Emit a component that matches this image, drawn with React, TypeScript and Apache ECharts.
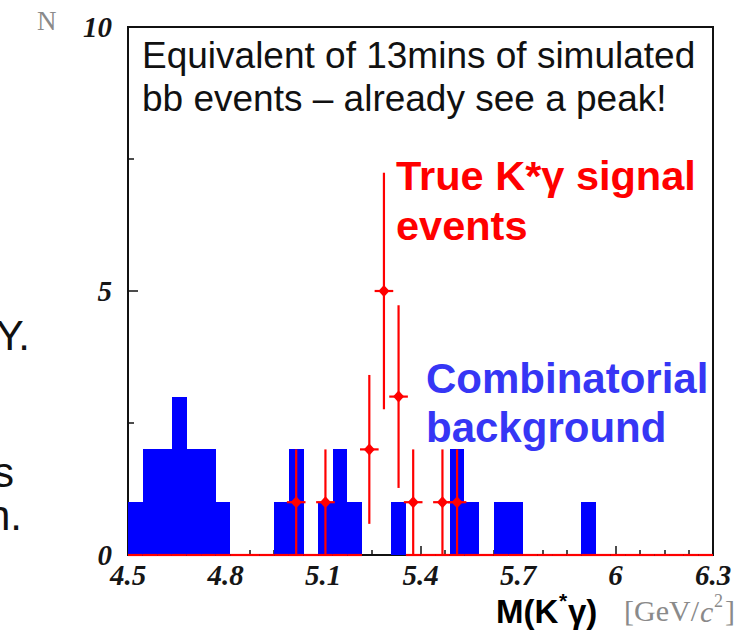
import { useEffect, useRef } from "react";
import * as echarts from "echarts";

// Invariant-mass histogram, 40 bins of 0.045 GeV/c^2 from 4.5 to 6.3
const massMin = 4.5;
const massMax = 6.3;
const binWidth = 0.045;

// Combinatorial background counts per bin
const background = [
  1, 2, 2, 3, 2, 2, 1, 0, 0, 0,
  1, 2, 0, 1, 2, 1, 0, 0, 1, 0,
  0, 0, 2, 1, 0, 1, 1, 0, 0, 0,
  0, 1, 0, 0, 0, 0, 0, 0, 0, 0,
];

// True K*gamma signal counts per bin and their statistical errors
const signal = [
  0, 0, 0, 0, 0, 0, 0, 0, 0, 0,
  0, 1, 0, 1, 0, 0, 2, 5, 3, 1,
  0, 1, 1, 0, 0, 0, 0, 0, 0, 0,
  0, 0, 0, 0, 0, 0, 0, 0, 0, 0,
];
const signalError = [
  0, 0, 0, 0, 0, 0, 0, 0, 0, 0,
  0, 1, 0, 1, 0, 0, 1.41, 2.24, 1.73, 1,
  0, 1, 1, 0, 0, 0, 0, 0, 0, 0,
  0, 0, 0, 0, 0, 0, 0, 0, 0, 0,
];

const noteLines = ["Equivalent of 13mins of simulated", "bb events \u2013 already see a peak!"];
const signalLabel = ["True K*\u03b3 signal", "events"];
const backgroundLabel = ["Combinatorial", "background"];

const RED = "#ff0000";
const BLUE = "#0000ff";
const LABEL_BLUE = "#3636f5";
const tickFont = {
  fontFamily: "Liberation Serif",
  fontWeight: "bold" as const,
  fontStyle: "italic" as const,
  fontSize: 29,
  color: "#161616",
};

function text(x: number, y: number, str: string, font: string, fill: string, align = "left") {
  return {
    type: "text",
    x,
    y,
    silent: true,
    style: {
      text: str,
      font,
      fill,
      align,
      textAlign: align,
      verticalAlign: "middle",
      textVerticalAlign: "middle",
    },
  };
}

export default function App() {
  const ref = useRef<HTMLDivElement>(null);

  useEffect(() => {
    if (!ref.current) return;
    const chart = echarts.init(ref.current, null, { renderer: "svg" });

    const bins = background.map((b, i) => [i, b, signal[i], signalError[i]]);

    const option: echarts.EChartsOption = {
      animation: false,
      backgroundColor: "#ffffff",
      grid: {
        show: true,
        left: 128,
        top: 27,
        width: 585,
        height: 528,
        borderColor: "#111",
        borderWidth: 2,
        backgroundColor: "transparent",
      },
      xAxis: {
        type: "value",
        min: massMin,
        max: massMax,
        interval: 0.3,
        axisLine: { show: false },
        splitLine: { show: false },
        axisTick: { show: true, inside: true, length: 9, lineStyle: { color: "#111", width: 1.5 } },
        minorTick: { show: true, splitNumber: 4, length: 5, lineStyle: { color: "#111", width: 1.5 } },
        axisLabel: { ...tickFont, margin: 5 },
      },
      yAxis: {
        type: "value",
        min: 0,
        max: 10,
        interval: 5,
        axisLine: { show: false },
        splitLine: { show: false },
        axisTick: { show: true, inside: true, length: 10, lineStyle: { color: "#111", width: 1.5 } },
        minorTick: { show: true, splitNumber: 2, length: 6, lineStyle: { color: "#111", width: 1.5 } },
        axisLabel: { ...tickFont, margin: 16 },
      },
      series: [
        {
          type: "custom",
          name: "background",
          data: bins,
          z: 2,
          renderItem: (params: any, api: any) => {
            const i = api.value(0);
            const h = api.value(1);
            if (!h) return null;
            const x0 = massMin + i * binWidth;
            const p0 = api.coord([x0, 0]);
            const p1 = api.coord([x0 + binWidth, h]);
            // snap to whole pixels so neighbouring bins join without seams
            const left = Math.round(p0[0]);
            const right = Math.round(p1[0]);
            const top = Math.round(p1[1]);
            const bottom = Math.round(p0[1]);
            return {
              type: "rect",
              shape: { x: left, y: top, width: right - left, height: bottom - top },
              style: { fill: BLUE },
            };
          },
        },
        {
          type: "custom",
          name: "signal",
          data: bins,
          z: 3,
          renderItem: (params: any, api: any) => {
            const i = api.value(0);
            const v = api.value(2);
            const e = api.value(3);
            const x0 = massMin + i * binWidth;
            const x1 = x0 + binWidth;
            const xc = x0 + binWidth / 2;
            const children: any[] = [];
            const lineStyle = { stroke: RED, lineWidth: 2.2 };
            if (v - e <= 0) {
              const a = api.coord([x0, 0]);
              const b = api.coord([x1, 0]);
              children.push({ type: "line", shape: { x1: a[0], y1: a[1], x2: b[0], y2: b[1] }, style: lineStyle });
            }
            if (v > 0) {
              const lo = api.coord([xc, Math.max(0, v - e)]);
              const hi = api.coord([xc, v + e]);
              const l = api.coord([x0, v]);
              const r = api.coord([x1, v]);
              children.push({ type: "line", shape: { x1: lo[0], y1: lo[1], x2: hi[0], y2: hi[1] }, style: lineStyle });
              children.push({ type: "line", shape: { x1: l[0] - 2, y1: l[1], x2: r[0] + 2, y2: r[1] }, style: lineStyle });
              const c = api.coord([xc, v]);
              children.push({
                type: "polygon",
                shape: {
                  points: [
                    [c[0], c[1] - 6],
                    [c[0] + 5.5, c[1]],
                    [c[0], c[1] + 6],
                    [c[0] - 5.5, c[1]],
                  ],
                },
                style: { fill: RED },
              });
            }
            return { type: "group", children };
          },
        },
      ],
      graphic: [
        text(37, 21, "N", "27px 'Liberation Serif'", "#8a8a8a"),
        // fragments of the neighbouring slide text
        text(30, 335, "Y.", "42px 'Liberation Sans'", "#111", "right"),
        text(14, 472, "s", "42px 'Liberation Sans'", "#111", "right"),
        text(22, 515, "n.", "42px 'Liberation Sans'", "#111", "right"),
        text(142, 55, noteLines[0], "37px 'Liberation Sans'", "#111"),
        text(142, 98, noteLines[1], "37px 'Liberation Sans'", "#111"),
        text(396, 175, signalLabel[0], "bold 41.5px 'Liberation Sans'", RED),
        text(396, 225, signalLabel[1], "bold 41.5px 'Liberation Sans'", RED),
        text(426, 378, backgroundLabel[0], "bold 42px 'Liberation Sans'", LABEL_BLUE),
        text(426, 427, backgroundLabel[1], "bold 42px 'Liberation Sans'", LABEL_BLUE),
        // axis title M(K*γ) [GeV/c²]
        text(496, 611, "M(K", "bold 33px 'Liberation Sans'", "#000"),
        text(559, 600, "*", "bold 21px 'Liberation Sans'", "#000"),
        text(568, 611, "\u03b3)", "bold 33px 'Liberation Sans'", "#000"),
        text(624, 610, "[GeV/", "30px 'Liberation Serif'", "#8a8a8a"),
        text(700, 611, "c", "italic 30px 'Liberation Serif'", "#8a8a8a"),
        text(714, 601, "2", "18px 'Liberation Serif'", "#8a8a8a"),
        text(725, 610, "]", "30px 'Liberation Serif'", "#8a8a8a"),
      ],
    } as any;

    chart.setOption(option);
    return () => chart.dispose();
  }, []);

  return (
    <div
      ref={ref}
      style={{ position: "absolute", left: 0, top: 0, width: 742, height: 633 }}
    />
  );
}
